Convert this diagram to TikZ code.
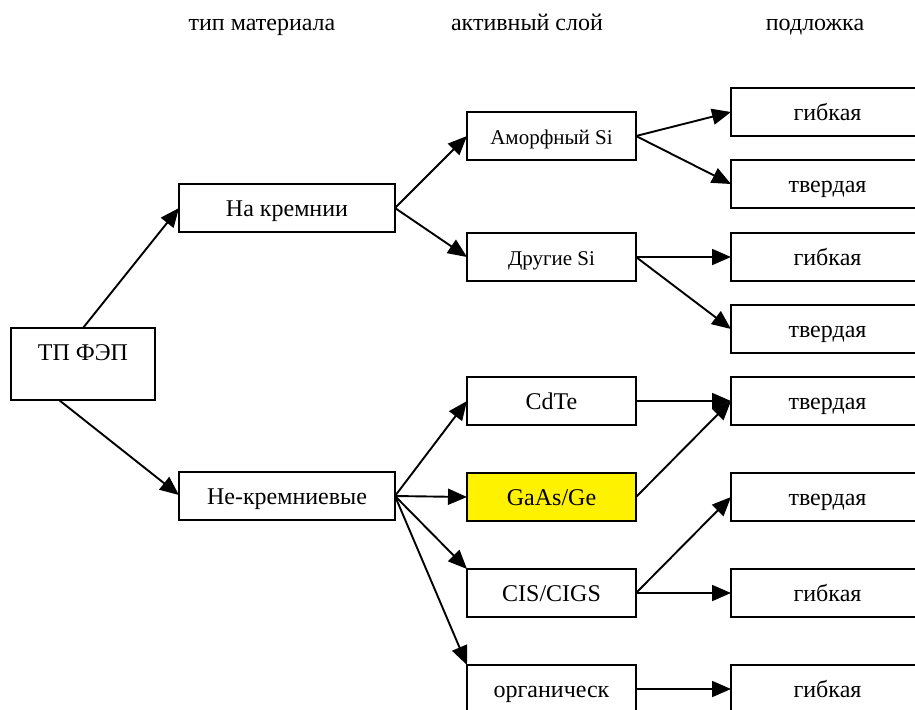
\documentclass[tikz,border=0pt]{standalone}
\usepackage{fontspec}
\setmainfont{Liberation Serif}
\usetikzlibrary{arrows.meta,calc}
\begin{document}
\begin{tikzpicture}[x=0.5pt,y=-0.5pt,
  box/.style={draw=black, line width=1pt, fill=white, inner sep=0pt, outer sep=0pt,
              minimum height=24pt, text height=8.5pt, text depth=0.5pt,
              font=\fontsize{12}{14}\selectfont},
  colA/.style={box, minimum width=108pt},
  colB/.style={box, minimum width=84.5pt},
  colC/.style={box, minimum width=96.5pt},
  small/.style={font=\fontsize{10.5}{12}\selectfont},
  hdr/.style={anchor=base, font=\fontsize{12}{14}\selectfont},
  conn/.style={line width=0.95pt, -{Triangle[length=9.5pt,width=8pt]}}
]
\useasboundingbox (0,0) rectangle (915,709);

% headers
\node[hdr] (h1) at (262,30) {тип материала};
\node[hdr] (h2) at (527,30) {активный слой};
\node[hdr] (h3) at (815,30) {подложка};

% root
\node[box, minimum width=72pt, minimum height=36pt] (tp) at (83,364) {};
\node[inner sep=0pt, text height=8.5pt, text depth=0.5pt,
      font=\fontsize{12}{14}\selectfont] (tplbl) at (83,352) {ТП ФЭП};

% material type
\node[colA] (si) at (287,208) {На кремнии};
\node[colA] (nsi) at (287,496) {Не-кремниевые};

% active layer
\node[colB, small] (am) at (551.5,136) {Аморфный Si};
\node[colB, small] (dr) at (551.5,257) {Другие Si};
\node[colB] (cdte) at (551.5,401) {CdTe};
\node[colB, fill=yellow] (gaas) at (551.5,497) {GaAs/Ge};
\node[colB] (cis) at (551.5,593) {CIS/CIGS};
\node[colB] (org) at (551.5,689) {органическ};

% substrate
\node[colC] (s1) at (827.5,112) {гибкая};
\node[colC] (s2) at (827.5,184) {твердая};
\node[colC] (s3) at (827.5,257) {гибкая};
\node[colC] (s4) at (827.5,329) {твердая};
\node[colC] (s5) at (827.5,401) {твердая};
\node[colC] (s6) at (827.5,497) {твердая};
\node[colC] (s7) at (827.5,593) {гибкая};
\node[colC] (s8) at (827.5,689) {гибкая};

% connectors
\draw[conn] (tp.north) -- (si.west);
\draw[conn] ($(tp.south)+(-24,0)$) -- ($(nsi.west)+(0,-1)$);

\draw[conn] (si.east) -- (am.west);
\draw[conn] (si.east) -- (dr.west);

\draw[conn] (am.east) -- (s1.west);
\draw[conn] (am.east) -- (s2.west);
\draw[conn] (dr.east) -- (s3.west);
\draw[conn] (dr.east) -- (s4.west);

\draw[conn] (nsi.east) -- (cdte.west);
\draw[conn] (nsi.east) -- (gaas.west);
\draw[conn] (nsi.east) -- (cis.north west);
\draw[conn] (nsi.east) -- (org.north west);

\draw[conn] (cdte.east) -- (s5.west);
\draw[conn] (gaas.east) -- (s5.west);
\draw[conn] (cis.east) -- (s6.west);
\draw[conn] (cis.east) -- (s7.west);
\draw[conn] (org.east) -- (s8.west);
\end{tikzpicture}
\end{document}
